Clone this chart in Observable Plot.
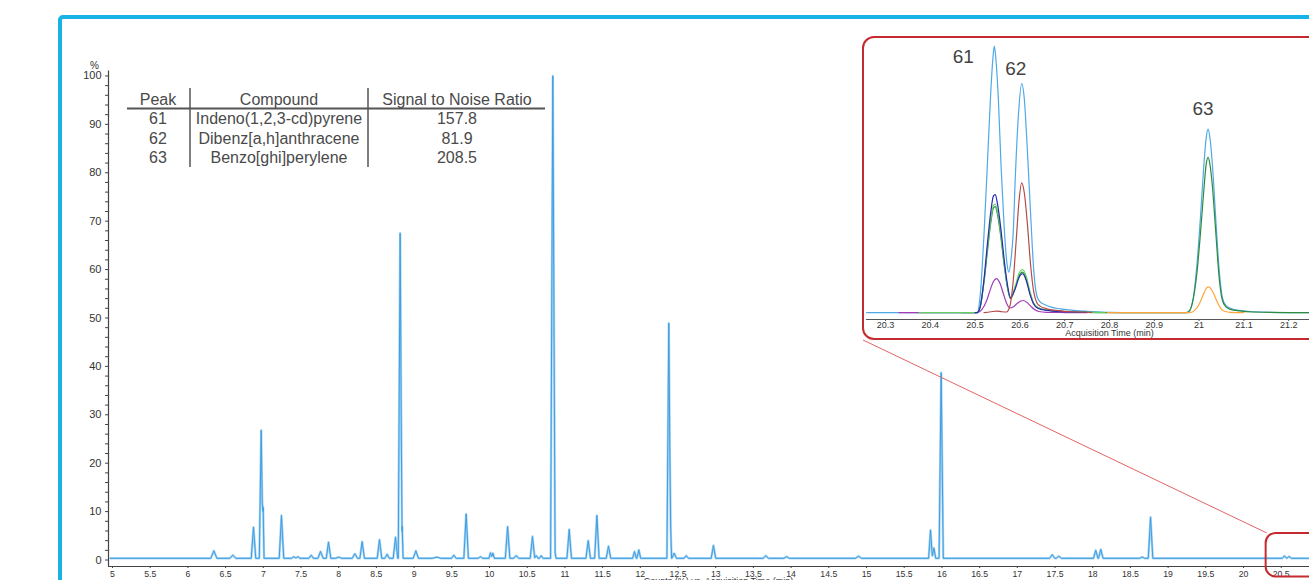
<!DOCTYPE html>
<html>
<head>
<meta charset="utf-8">
<script src="https://cdn.jsdelivr.net/npm/d3@7"></script>
<script src="https://cdn.jsdelivr.net/npm/@observablehq/plot@0.6"></script>
<style>
  html, body { margin: 0; padding: 0; background: #fff; overflow: hidden; }
  #page { position: relative; width: 1309px; height: 580px; overflow: hidden; background: #fff;
          font-family: "Liberation Sans", Arial, sans-serif; }
  #page > * { position: absolute; }
  #page svg { max-width: none !important; }
</style>
</head>
<body>
<div id="page"></div>
<script>
// ---------- Full chromatogram: apex retention time (min), apex response (%), half base width (min)
const peakTimes   = [6.344, 6.596, 6.870, 6.972, 6.998, 7.241, 7.405, 7.457, 7.635, 7.759, 7.865, 8.000,
                     8.214, 8.311, 8.541, 8.642, 8.753, 8.815, 8.842, 9.023, 9.300, 9.527, 9.690, 9.880,
                     10.013, 10.045, 10.240, 10.354, 10.570, 10.620, 10.686, 10.840, 10.870, 11.057, 11.309,
                     11.424, 11.578, 11.923, 11.980, 12.378, 12.403, 12.449, 12.609, 12.970, 13.665, 13.940,
                     14.894, 15.849, 15.893, 15.990, 17.463, 17.550, 18.040, 18.107, 18.656, 18.767,
                     20.543, 20.604, 21.020];
const peakHeights = [1.9, 1.0, 6.8, 26.8, 10.9, 9.2, 0.7, 0.7, 1.0, 1.75, 3.7, 0.6,
                     1.3, 3.8, 4.2, 1.2, 4.7, 67.5, 7.0, 1.9, 0.6, 1.0, 9.5, 0.7,
                     1.5, 1.4, 6.9, 0.9, 4.85, 0.9, 0.9, 100, 1.6, 6.3, 4.0,
                     9.2, 2.85, 1.75, 2.1, 48.9, 6.6, 1.4, 0.9, 3.0, 0.9, 0.7,
                     0.8, 6.2, 2.5, 38.7, 1.1, 0.8, 2.0, 2.2, 0.6, 8.85,
                     0.85, 0.75, 0.65];
const peakWidths  = [0.04, 0.04, 0.03, 0.025, 0.012, 0.03, 0.03, 0.03, 0.03, 0.035, 0.03, 0.04,
                     0.035, 0.03, 0.03, 0.03, 0.03, 0.025, 0.012, 0.035, 0.06, 0.03, 0.03, 0.03,
                     0.02, 0.02, 0.03, 0.035, 0.03, 0.025, 0.025, 0.03, 0.012, 0.03, 0.03,
                     0.03, 0.03, 0.025, 0.025, 0.025, 0.012, 0.03, 0.03, 0.03, 0.035, 0.035,
                     0.04, 0.025, 0.025, 0.028, 0.035, 0.035, 0.03, 0.03, 0.035, 0.03,
                     0.03, 0.03, 0.03];
const baselineLevel = 0.35;
const runStart = 4.97, runEnd = 21.4;

const mainTicksX = [5, 5.5, 6, 6.5, 7, 7.5, 8, 8.5, 9, 9.5, 10, 10.5, 11, 11.5, 12, 12.5, 13, 13.5,
                    14, 14.5, 15, 15.5, 16, 16.5, 17, 17.5, 18, 18.5, 19, 19.5, 20, 20.5];
const mainTicksY = [0, 2, 4, 6, 8, 10, 12, 14, 16, 18, 20, 22, 24, 26, 28, 30, 32, 34, 36, 38, 40, 42, 44, 46, 48,
                    50, 52, 54, 56, 58, 60, 62, 64, 66, 68, 70, 72, 74, 76, 78, 80, 82, 84, 86, 88, 90, 92, 94, 96, 98, 100];

// ---------- Zoomed window (20.3 – 21.3 min), traces per ion, [time, response] with peak 61 = 100
const traceTIC = [[20.258,0.35],[20.50,0.35],[20.505,0.5],[20.512,8],[20.52,30],[20.528,58],[20.535,83],[20.540,96],
  [20.543,100],[20.547,94],[20.552,80],[20.558,55],[20.565,32],[20.571,19],[20.575,15.5],[20.58,20],[20.585,30],
  [20.59,52],[20.597,75],[20.604,86],[20.61,80],[20.617,60],[20.624,37],[20.631,16],[20.638,6.5],[20.645,4.4],
  [20.655,3.4],[20.67,2.4],[20.69,1.8],[20.72,1.2],[20.76,0.8],[20.80,0.5],[20.85,0.35],[20.975,0.4],[20.985,4],
  [20.995,18],[21.003,36],[21.01,54],[21.016,66],[21.02,69],[21.024,66],[21.03,55],[21.037,36],[21.045,16],
  [21.052,6],[21.06,3],[21.07,2],[21.09,1.2],[21.12,0.7],[21.2,0.4],[21.35,0.35]];
const traceDarkGreen = [[20.47,0.35],[20.505,0.4],[20.512,3],[20.52,12],[20.528,24],[20.535,34],[20.541,39.5],
  [20.545,40],[20.55,37],[20.558,28],[20.565,18],[20.572,10],[20.579,5.5],[20.59,10],[20.598,14],[20.606,15.5],
  [20.614,13],[20.622,8],[20.63,4],[20.64,2.2],[20.66,1.3],[20.7,0.8],[20.75,0.5],[20.8,0.35],[20.97,0.35],
  [20.978,1],[20.985,4],[20.995,15],[21.003,30],[21.01,45],[21.016,56],[21.02,58.4],[21.024,56],[21.03,47],
  [21.037,31],[21.045,13],[21.052,5],[21.06,2.5],[21.07,1.6],[21.09,1],[21.12,0.6],[21.2,0.4],[21.35,0.35]];
const traceMagenta = [[20.33,0.35],[20.505,0.4],[20.515,1.5],[20.525,4.5],[20.533,8.5],[20.541,12],[20.548,13.1],
  [20.555,11.5],[20.563,7.5],[20.57,4],[20.578,2.1],[20.585,2.5],[20.594,3.8],[20.602,4.7],[20.608,4.9],
  [20.615,4.3],[20.623,3],[20.632,1.6],[20.642,0.8],[20.66,0.5],[20.7,0.4],[20.75,0.35]];
const traceLightGreen = [[20.375,0.35],[20.505,0.4],[20.512,3],[20.52,12.5],[20.528,25],[20.535,35],[20.541,40.5],
  [20.545,41],[20.55,38],[20.558,29],[20.565,18.5],[20.572,10],[20.579,6],[20.59,10.5],[20.598,15],[20.606,16.5],
  [20.614,14],[20.622,8.5],[20.63,4.2],[20.64,2.3],[20.66,1.3],[20.7,0.8],[20.75,0.5],[20.79,0.4]];
const traceNavy = [[20.50,0.35],[20.505,0.4],[20.512,3],[20.52,13],[20.528,27],[20.535,38],[20.541,44],[20.545,44.5],
  [20.55,41],[20.558,31],[20.565,20],[20.572,11],[20.579,6],[20.59,9.5],[20.598,13.5],[20.606,14.9],[20.614,12.5],
  [20.622,7.5],[20.63,3.8],[20.64,2],[20.66,1.2],[20.7,0.7],[20.75,0.45]];
const traceRed = [[20.52,0.35],[20.535,0.7],[20.548,0.95],[20.56,0.7],[20.57,0.6],[20.578,3],[20.585,12],[20.592,28],
  [20.598,42],[20.604,48.9],[20.61,45],[20.617,33],[20.624,18],[20.631,8],[20.638,4],[20.645,2.8],[20.66,1.8],
  [20.68,1.2],[20.72,0.7],[20.76,0.45]];
const traceOrange = [[20.795,0.35],[20.98,0.4],[20.99,1.2],[21.0,3.5],[21.008,6.5],[21.015,9.2],[21.021,10],
  [21.027,9.2],[21.035,6.5],[21.043,3.5],[21.05,1.6],[21.058,0.8],[21.07,0.5],[21.1,0.4]];

const insetTraces = [
  {points: traceTIC,        color: "#4ea9e6"},
  {points: traceDarkGreen,  color: "#2f8a3c"},
  {points: traceMagenta,    color: "#a23cb4"},
  {points: traceLightGreen, color: "#62cf62"},
  {points: traceNavy,       color: "#2a2ab4"},
  {points: traceRed,        color: "#b8494a"},
  {points: traceOrange,     color: "#ffa43a"}
];
const insetTicks = [20.3, 20.4, 20.5, 20.6, 20.7, 20.8, 20.9, 21, 21.1, 21.2];
const insetPeakIds = ["61", "62", "63"];
const insetPeakTimes = [20.543, 20.604, 21.02];
const insetPeakTops = [100, 86, 69];

// ---------- Results table
const tablePeaks = ["61", "62", "63"];
const tableCompounds = ["Indeno(1,2,3-cd)pyrene", "Dibenz[a,h]anthracene", "Benzo[ghi]perylene"];
const tableSN = ["157.8", "81.9", "208.5"];

// Zoom window drawn on the full chromatogram
const zoomStart = 20.3, zoomTop = 5.5;

const FONT = "Liberation Sans, Arial, Helvetica, sans-serif";
const page = document.getElementById("page");

// Piecewise-linear spike trace: sum of triangular peaks evaluated at every knot
function spikeTrace() {
  const knots = new Set([runStart, runEnd]);
  peakTimes.forEach((t, i) => { knots.add(t - peakWidths[i]); knots.add(t); knots.add(t + peakWidths[i]); });
  const xs = [...knots].filter(x => x >= runStart && x <= runEnd).sort((a, b) => a - b);
  return xs.map(x => {
    let v = baselineLevel;
    peakTimes.forEach((t, i) => {
      const d = Math.abs(x - t) / peakWidths[i];
      if (d < 1) v += (peakHeights[i] - baselineLevel) * (1 - d);
    });
    return {time: x, value: v};
  });
}
const mainTrace = spikeTrace();

// ---------- Main chart
const xMin = 4.947, xMax = 21.127, yMin = -1.34, yMax = 101;
const main = Plot.plot({
  width: 1330, height: 600,
  marginLeft: 108, marginRight: 2, marginTop: 70.6, marginBottom: 34,
  style: {fontFamily: FONT, color: "#333", background: "transparent", overflow: "visible", maxWidth: "none"},
  x: {domain: [xMin, xMax], axis: null},
  y: {domain: [yMin, yMax], axis: null},
  marks: [
    Plot.axisX({ticks: mainTicksX, tickFormat: d => String(d), tickSize: 2, tickPadding: 2,
                fontSize: 8.7, label: null, stroke: "#444", fill: "#333"}),
    Plot.axisY({ticks: mainTicksY, tickFormat: d => d % 10 === 0 ? String(d) : "", tickSize: 3, tickPadding: 4,
                fontSize: 11, label: null, stroke: "#444", fill: "#333"}),
    Plot.ruleX([xMin], {stroke: "#444", strokeWidth: 1.2}),
    Plot.ruleY([yMin], {stroke: "#444", strokeWidth: 1.2}),
    Plot.text(["%"], {frameAnchor: "top-left", dx: -14, dy: -5, textAnchor: "middle", lineAnchor: "middle",
                      fontSize: 10, fill: "#333"}),
    Plot.text(["Counts (%) vs. Acquisition Time (min)"], {frameAnchor: "bottom", dy: 15, lineAnchor: "middle",
                      fontSize: 9, fill: "#333"}),
    Plot.line(mainTrace, {x: "time", y: "value", stroke: "#a9d6f4", strokeWidth: 2.4}),
    Plot.line(mainTrace, {x: "time", y: "value", stroke: "#3f9de0", strokeWidth: 1}),
    Plot.rect([{x1: zoomStart, x2: 21.6, y1: -3.5, y2: zoomTop}],
              {x1: "x1", x2: "x2", y1: "y1", y2: "y2", rx: 10, fill: "none", stroke: "#c52a2f", strokeWidth: 2})
  ]
});
main.style.left = "0px"; main.style.top = "0px";
page.appendChild(main);

// ---------- Connector from the zoom window to the inset
const insetLeft = 862, insetTop = 36, insetHeight = 304;
const sx = main.scale("x"), sy = main.scale("y");
const overlay = d3.create("svg").attr("width", 1309).attr("height", 580)
  .style("left", "0px").style("top", "0px").style("pointer-events", "none");
overlay.append("line")
  .attr("x1", insetLeft + 1).attr("y1", insetTop + insetHeight)
  .attr("x2", sx.apply(zoomStart) + 1).attr("y2", sy.apply(zoomTop))
  .attr("stroke", "#e26464").attr("stroke-width", 1);
page.appendChild(overlay.node());

// ---------- Inset box
const box = document.createElement("div");
Object.assign(box.style, {left: insetLeft + "px", top: insetTop + "px", width: "520px", height: insetHeight + "px",
  boxSizing: "border-box", border: "2px solid #c52a2f", borderRadius: "12px", background: "#fff"});
page.appendChild(box);

const insetLines = insetTraces.map(tr =>
  Plot.line(tr.points, {x: d => d[0], y: d => d[1], stroke: tr.color, strokeWidth: 1.2, curve: "monotone-x"}));
const labelOffsets = [[-31, 11], [-6, -15], [-5, -20]];
const insetLabels = insetPeakIds.map((id, i) =>
  Plot.text([i], {x: j => insetPeakTimes[j], y: j => insetPeakTops[j], text: j => insetPeakIds[j],
                  dx: labelOffsets[i][0], dy: labelOffsets[i][1], fontSize: 19, fill: "#444",
                  lineAnchor: "middle"}));

const inset = Plot.plot({
  width: 490, height: insetHeight,
  marginLeft: 4, marginRight: 0, marginTop: 9.7, marginBottom: 21,
  style: {fontFamily: FONT, color: "#333", background: "transparent", overflow: "visible", maxWidth: "none"},
  x: {domain: [20.2576, 21.3424], axis: null},
  y: {domain: [-2.2, 100], axis: null},
  marks: [
    Plot.axisX({ticks: insetTicks, tickFormat: d => String(d), tickSize: 2, tickPadding: 0,
                fontSize: 9, label: null, stroke: "#555", fill: "#333"}),
    Plot.ruleY([-2.2], {stroke: "#555", strokeWidth: 1}),
    Plot.text(["Acquisition Time (min)"], {frameAnchor: "bottom", dy: 14, lineAnchor: "middle",
                                          fontSize: 9, fill: "#333"}),
    ...insetLines,
    ...insetLabels
  ]
});
inset.style.left = insetLeft + "px"; inset.style.top = insetTop + "px";
page.appendChild(inset);

// ---------- Results table
const table = d3.create("svg").attr("width", 1309).attr("height", 580)
  .style("left", "0px").style("top", "0px").style("pointer-events", "none")
  .attr("font-family", FONT).attr("font-size", 16).attr("fill", "#4a4a4a");
const colX = [158, 279, 457];
const headers = ["Peak", "Compound", "Signal to Noise Ratio"];
headers.forEach((h, i) => table.append("text").attr("x", colX[i]).attr("y", 105)
  .attr("text-anchor", "middle").text(h));
const rowBase = [124, 143.5, 163];
tablePeaks.forEach((p, r) => {
  [p, tableCompounds[r], tableSN[r]].forEach((v, i) =>
    table.append("text").attr("x", colX[i]).attr("y", rowBase[r]).attr("text-anchor", "middle").text(v));
});
table.append("line").attr("x1", 127).attr("x2", 545).attr("y1", 108.5).attr("y2", 108.5)
  .attr("stroke", "#555").attr("stroke-width", 2);
[190, 368].forEach(x => table.append("line").attr("x1", x).attr("x2", x).attr("y1", 88).attr("y2", 167)
  .attr("stroke", "#555").attr("stroke-width", 1.5));
page.appendChild(table.node());

// ---------- Outer frame
const frame = document.createElement("div");
Object.assign(frame.style, {left: "57.5px", top: "15px", width: "1400px", height: "700px",
  border: "4px solid #17b3e6", borderRadius: "5px", pointerEvents: "none"});
page.appendChild(frame);
</script>
</body>
</html>
